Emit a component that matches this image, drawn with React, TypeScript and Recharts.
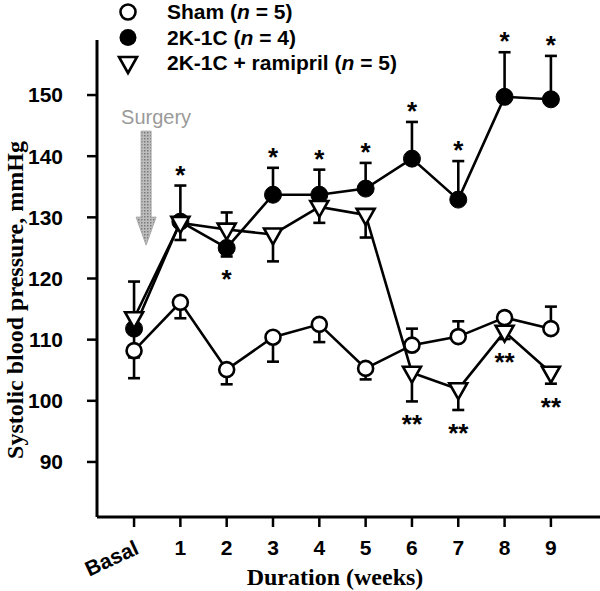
import React from 'react';
import { LineChart, Line, XAxis, YAxis, ErrorBar, LabelList, ReferenceDot } from 'recharts';

const weeks = ['Basal', '1', '2', '3', '4', '5', '6', '7', '8', '9'];
const weekPos = [0, 1, 2, 3, 4, 5, 6, 7, 8, 9];
const yTicks = [90, 100, 110, 120, 130, 140, 150];

const shamMean = [108.2, 116.1, 105.1, 110.4, 112.5, 105.3, 109.1, 110.5, 113.6, 111.8];
const shamErrDown = [4.5, 2.6, 2.4, 4.0, 2.9, 1.8, 0, 0, 0, 0];
const shamErrUp = [0, 0, 0, 0, 0, 0, 2.7, 2.5, 0.8, 3.6];

const twoKMean = [111.8, 129.3, 125.0, 133.7, 133.7, 134.7, 139.6, 132.9, 149.7, 149.3];
const twoKErrDown = [4.7, 0, 1.4, 0, 0, 0, 0, 0, 0, 0];
const twoKErrUp = [0, 5.9, 0, 4.4, 4.1, 4.2, 6.0, 6.3, 7.3, 7.1];
const twoKSig = ['', 'above', 'below', 'above', 'above', 'above', 'above', 'above', 'above', 'above'];

const ramMean = [113.5, 129.1, 128.0, 127.2, 131.7, 130.4, 104.6, 101.9, 111.3, 104.6];
const ramErrDown = [0, 2.8, 0, 4.4, 2.6, 3.7, 4.7, 3.4, 1.2, 1.8];
const ramErrUp = [6.0, 0, 2.8, 0, 0, 0, 0, 0, 0, 0];
const ramSig = ['', '', '', '', '', '', 'below', 'below', 'below', 'below'];

const legendLabels = ['Sham', '2K-1C', '2K-1C + ramipril'];
const legendN = [5, 4, 5];

const surgeryX = 0.26;
const surgeryY = 144.1;

const anchor = (sig: string, m: number, up: number, down: number) =>
  sig === 'above' ? m + up : sig === 'below' ? m - down : null;

const data = weeks.map((w, i) => ({
  x: weekPos[i],
  sham: shamMean[i],
  shamErr: [shamErrDown[i], shamErrUp[i]],
  twoK: twoKMean[i],
  twoKErr: [twoKErrDown[i], twoKErrUp[i]],
  ram: ramMean[i],
  ramErr: [ramErrDown[i], ramErrUp[i]],
  twoKStar: anchor(twoKSig[i], twoKMean[i], twoKErrUp[i], twoKErrDown[i]),
  twoKStarText: twoKSig[i] ? '*' : '',
  ramStar: anchor(ramSig[i], ramMean[i], ramErrUp[i], ramErrDown[i]),
  ramStarText: ramSig[i] ? '**' : '',
}));

const SANS = 'Liberation Sans, Arial, sans-serif';
const SERIF = 'Liberation Serif, Times New Roman, serif';

const ShamDot = (p: any) => {
  if (p.cx == null || p.cy == null) return <g key={p.index} />;
  return <circle key={p.index} cx={p.cx} cy={p.cy} r={7.5} fill="#fff" stroke="#000" strokeWidth={2.6} />;
};
const TwoKDot = (p: any) => {
  if (p.cx == null || p.cy == null) return <g key={p.index} />;
  return <circle key={p.index} cx={p.cx} cy={p.cy} r={8.5} fill="#000" stroke="#000" strokeWidth={1} />;
};
const RamDot = (p: any) => {
  if (p.cx == null || p.cy == null) return <g key={p.index} />;
  const { cx, cy } = p;
  return (
    <path
      key={p.index}
      d={`M${cx - 9},${cy - 6} L${cx + 9},${cy - 6} L${cx},${cy + 10} Z`}
      fill="#fff"
      stroke="#000"
      strokeWidth={2.6}
      strokeLinejoin="miter"
    />
  );
};

const makeStar = (sig: string[]) => (props: any) => {
  const { value, index } = props;
  const x = props.x ?? props.viewBox?.x;
  const y = props.y ?? props.viewBox?.y;
  if (!value || x == null || y == null) return null;
  const cy = sig[index] === 'above' ? y - 17 : y + 17;
  return (
    <text key={index} x={x} y={cy + 15} textAnchor="middle" fontFamily={SANS} fontWeight="bold" fontSize={26} fill="#000">
      {value}
    </text>
  );
};

const XTick = (props: any) => {
  const { x, y, payload } = props;
  const label = weeks[payload.value];
  if (payload.value === 0) {
    return (
      <text x={x + 6} y={y + 13} textAnchor="end" transform={`rotate(-25 ${x + 6} ${y + 13})`} fontFamily={SANS} fontWeight="bold" fontSize={21} fill="#000">
        {label}
      </text>
    );
  }
  return (
    <text x={x} y={y} dy="0.71em" textAnchor="middle" fontFamily={SANS} fontWeight="bold" fontSize={21} fill="#000">
      {label}
    </text>
  );
};

const SurgeryArrow = (p: any) => {
  const { cx, cy } = p;
  if (cx == null || cy == null) return <g />;
  const headY = cy + 86;
  const tipY = cy + 114;
  return (
    <g>
      <defs>
        <pattern id="stipple" width="3" height="3" patternUnits="userSpaceOnUse">
          <rect width="3" height="3" fill="#bdbdbd" />
          <rect width="1.5" height="1.5" fill="#7a7a7a" />
        </pattern>
      </defs>
      <text x={cx + 10} y={cy - 7} textAnchor="middle" fontFamily={SANS} fontSize={20} fill="#9a9a9a">
        Surgery
      </text>
      <path
        d={`M${cx - 5},${cy} L${cx + 5},${cy} L${cx + 5},${headY} L${cx + 10},${headY} L${cx},${tipY} L${cx - 10},${headY} L${cx - 5},${headY} Z`}
        fill="url(#stipple)"
        stroke="#aaa"
        strokeWidth={1}
      />
    </g>
  );
};

const Legend = () => (
  <svg width={600} height={80} style={{ position: 'absolute', left: 0, top: 0 }}>
    {legendLabels.map((lab, i) => {
      const cy = 12 + i * 25.5;
      const cx = 128;
      let marker;
      if (i === 0) marker = <circle cx={cx} cy={cy} r={7.5} fill="#fff" stroke="#000" strokeWidth={2.6} />;
      else if (i === 1) marker = <circle cx={cx} cy={cy} r={8.5} fill="#000" />;
      else marker = <path d={`M${cx - 9},${cy - 6} L${cx + 9},${cy - 6} L${cx},${cy + 10} Z`} fill="#fff" stroke="#000" strokeWidth={2.6} />;
      return (
        <g key={lab}>
          {marker}
          <text x={167} y={cy + 7} fontFamily={SANS} fontWeight="bold" fontSize={21} fill="#000">
            {lab} (<tspan fontStyle="italic">n</tspan> = {legendN[i]})
          </text>
        </g>
      );
    })}
  </svg>
);

export default function App() {
  return (
    <div style={{ position: 'absolute', left: 0, top: 0, width: 600, height: 591, background: '#fff' }}>
      <LineChart width={600} height={591} data={data} margin={{ top: 40, right: 0, bottom: 0, left: 0 }}>
        <XAxis
          dataKey="x"
          type="number"
          domain={[-0.8, 10.06]}
          ticks={weekPos}
          allowDataOverflow
          height={74}
          tickSize={10}
          tickMargin={13}
          tick={<XTick />}
          axisLine={{ stroke: '#000', strokeWidth: 3 }}
          tickLine={{ stroke: '#000', strokeWidth: 2.5 }}
          label={{
            content: (p: any) => (
              <text x={335} y={585} textAnchor="middle" fontFamily={SERIF} fontWeight="bold" fontSize={24} fill="#000">
                Duration (weeks)
              </text>
            ),
          }}
        />
        <YAxis
          type="number"
          domain={[81, 159]}
          ticks={yTicks}
          allowDataOverflow
          width={97}
          tickSize={10}
          tickMargin={24}
          tick={{ fontFamily: SANS, fontWeight: 'bold', fontSize: 21, fill: '#000' }}
          axisLine={{ stroke: '#000', strokeWidth: 3 }}
          tickLine={{ stroke: '#000', strokeWidth: 2.5 }}
          label={{
            content: (p: any) => (
              <text x={23} y={300} textAnchor="middle" transform="rotate(-90 23 300)" fontFamily={SERIF} fontWeight="bold" fontSize={24} fill="#000">
                Systolic blood pressure, mmHg
              </text>
            ),
          }}
        />
        <ReferenceDot x={surgeryX} y={surgeryY} r={1} shape={<SurgeryArrow />} ifOverflow="visible" />
        <Line dataKey="sham" stroke="#000" strokeWidth={2.6} dot={<ShamDot />} activeDot={false} isAnimationActive={false}>
          <ErrorBar dataKey="shamErr" width={6} stroke="#000" strokeWidth={2.6} direction="y" />
        </Line>
        <Line dataKey="twoK" stroke="#000" strokeWidth={2.6} dot={<TwoKDot />} activeDot={false} isAnimationActive={false}>
          <ErrorBar dataKey="twoKErr" width={6} stroke="#000" strokeWidth={2.6} direction="y" />
        </Line>
        <Line dataKey="ram" stroke="#000" strokeWidth={2.6} dot={<RamDot />} activeDot={false} isAnimationActive={false}>
          <ErrorBar dataKey="ramErr" width={6} stroke="#000" strokeWidth={2.6} direction="y" />
        </Line>
        <Line dataKey="twoKStar" stroke="none" dot={false} activeDot={false} isAnimationActive={false}>
          <LabelList dataKey="twoKStarText" content={makeStar(twoKSig)} />
        </Line>
        <Line dataKey="ramStar" stroke="none" dot={false} activeDot={false} isAnimationActive={false}>
          <LabelList dataKey="ramStarText" content={makeStar(ramSig)} />
        </Line>
      </LineChart>
      <Legend />
    </div>
  );
}
